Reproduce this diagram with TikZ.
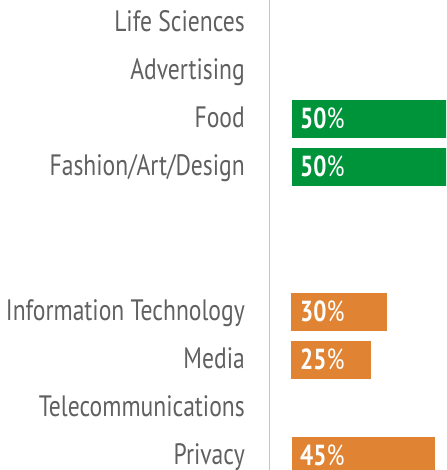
\documentclass[tikz,border=0pt]{standalone}
\usepackage{fontspec}
\setmainfont{PT Sans}[FakeStretch=0.80]
\definecolor{labelgray}{HTML}{606060}
\definecolor{axisgray}{HTML}{C4C4C4}
\definecolor{bargreen}{HTML}{00943A}
\definecolor{barorange}{HTML}{E08434}
\begin{document}
\begin{tikzpicture}[x=1pt,y=-1pt,
  cat/.style={anchor=base east,inner sep=0pt,text=labelgray,font=\fontsize{29.5}{32}\selectfont},
  pct/.style={anchor=base west,inner sep=0pt,text=white,font=\fontsize{29}{32}\selectfont},
  greenbar/.style={fill=bargreen},
  orangebar/.style={fill=barorange}]
\useasboundingbox (0,0) rectangle (446,470);
\begin{scope}
\clip (0,0) rectangle (446,470);
% axis
\coordinate (axtop) at (269.5,0);
\coordinate (axbot) at (269.5,470);
\draw[axisgray,line width=1.6pt] (axtop) -- (axbot);
% category labels
\node[cat] (ls) at (245,31.7) {Life Sciences};
\node[cat] (adv) at (245,79.7) {Advertising};
\node[cat] (food) at (245,127.7) {Food};
\node[cat] (fash) at (245,175.7) {Fashion/Art/Design};
\node[cat] (it) at (245,320.7) {Information Technology};
\node[cat] (media) at (245,368.7) {Media};
\node[cat] (tele) at (245,416.7) {Telecommunications};
\node[cat] (priv) at (245,464.7) {Privacy};
% bars
\fill[greenbar] (292,100) rectangle (452,137.7);
\fill[greenbar] (292,148) rectangle (452,185.7);
\fill[orangebar] (291,293) rectangle (387,330.7);
\fill[orangebar] (291,341) rectangle (370.7,378.7);
\fill[orangebar] (292,436.7) rectangle (435,474.4);
% values
\node[pct] (vfood) at (300,128.3) {\textbf{50}\%};
\node[pct] (vfash) at (300,176.3) {\textbf{50}\%};
\node[pct] (vit) at (300,321.3) {\textbf{30}\%};
\node[pct] (vmedia) at (300,369.3) {\textbf{25}\%};
\node[pct] (vpriv) at (300,465.3) {\textbf{45}\%};
\end{scope}
\end{tikzpicture}
\end{document}
